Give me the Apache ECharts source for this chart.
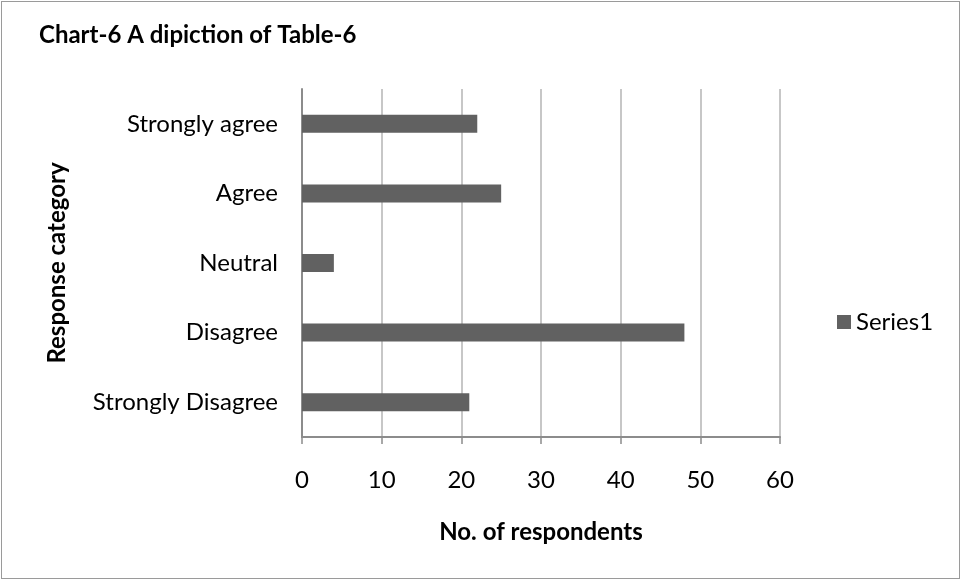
<!DOCTYPE html>
<html>
<head>
<meta charset="utf-8">
<script src="https://cdn.jsdelivr.net/npm/echarts@6/dist/echarts.min.js"></script>
<style>
  html, body { margin: 0; padding: 0; background: #fff; }
  #chart { position: absolute; left: 1px; top: 1px; width: 959px; height: 578px; border: 1.5px solid #9a9a9a; box-sizing: border-box; }
</style>
</head>
<body>
<div id="chart"></div>
<script>
// Response categories, listed bottom to top as the axis draws them
const categories = ['Strongly Disagree', 'Disagree', 'Neutral', 'Agree', 'Strongly agree'];
const series1 = [21, 48, 4, 25, 22];
const xTicks = [0, 10, 20, 30, 40, 50, 60];

const FONT = 'Lato, "Open Sans", sans-serif';
const chart = echarts.init(document.getElementById('chart'));
chart.setOption({
  animation: false,
  backgroundColor: '#fff',
  title: {
    text: 'Chart-6 A dipiction of Table-6',
    left: 32, top: 16,
    textStyle: { fontFamily: FONT, fontSize: 24, fontWeight: 'bold', color: '#000' }
  },
  legend: {
    data: ['Series1'],
    orient: 'vertical',
    left: 830, top: 303,
    itemWidth: 14, itemHeight: 14, itemGap: 6,
    icon: 'rect',
    textStyle: { fontFamily: FONT, fontSize: 24, color: '#000', padding: [0, 0, 0, 0] }
  },
  grid: { left: 300, top: 87, width: 478, height: 348, containLabel: false },
  xAxis: {
    type: 'value',
    min: xTicks[0], max: xTicks[xTicks.length - 1], interval: 10,
    name: 'No. of respondents',
    nameLocation: 'middle', nameGap: 83,
    nameTextStyle: { fontFamily: FONT, fontSize: 24, fontWeight: 'bold', color: '#000' },
    axisLine: { show: true, lineStyle: { color: '#8c8c8c', width: 2 } },
    axisTick: { show: true, length: 7, lineStyle: { color: '#8c8c8c', width: 1.5 } },
    axisLabel: { fontFamily: FONT, fontSize: 24, color: '#000', margin: 31 },
    splitLine: { show: true, lineStyle: { color: '#b4b4b4', width: 1.5 } }
  },
  yAxis: {
    type: 'category',
    data: categories,
    name: 'Response category',
    nameLocation: 'middle', nameGap: 233, nameRotate: 90,
    nameTextStyle: { fontFamily: FONT, fontSize: 24, fontWeight: 'bold', color: '#000' },
    axisLine: { show: true, lineStyle: { color: '#8c8c8c', width: 2 } },
    axisTick: { show: false },
    axisLabel: { fontFamily: FONT, fontSize: 24, color: '#000', margin: 24 }
  },
  series: [{
    name: 'Series1',
    type: 'bar',
    data: series1,
    barWidth: 18,
    itemStyle: { color: '#616161' }
  }]
});
</script>
</body>
</html>
